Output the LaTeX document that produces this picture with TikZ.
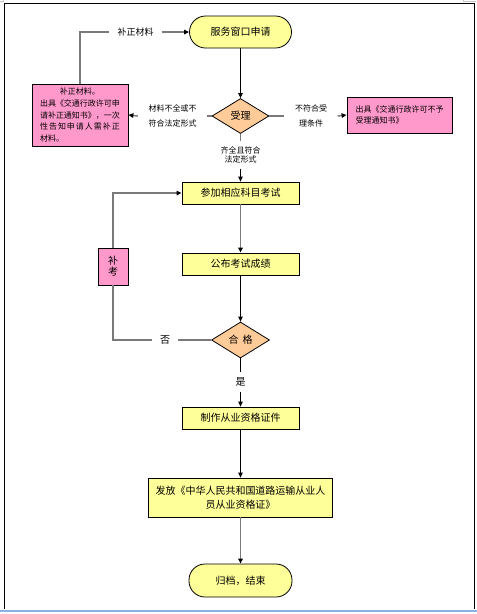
\documentclass[tikz,border=0pt]{standalone}
\usepackage{fontspec}
\setmainfont{Noto Sans CJK SC}
\usetikzlibrary{arrows.meta, positioning, shapes.geometric}
\definecolor{boxyellow}{HTML}{FFFF99}
\definecolor{boxorange}{HTML}{FFCC99}
\definecolor{boxpink}{HTML}{FF99CC}
\definecolor{linegray}{HTML}{7A7A7A}
\definecolor{barblue}{HTML}{8CB0E0}
\tikzset{
    termbox/.style={draw, line width=0.8pt, fill=boxyellow, rounded corners=16pt,
        minimum width=102pt, minimum height=32pt, font=\fontsize{10}{12}\selectfont},
    stepbox/.style={draw, line width=0.8pt, fill=boxyellow, align=center,
        minimum width=117pt, minimum height=22pt, font=\fontsize{10}{14.3}\selectfont},
    decision/.style={draw, line width=0.8pt, fill=boxorange, diamond, inner sep=0pt,
        minimum width=57pt, minimum height=35pt, font=\fontsize{10}{12}\selectfont},
    notebox/.style={draw, line width=0.8pt, fill=boxpink, align=left,
        font=\fontsize{8}{11.75}\selectfont},
    lbl/.style={inner ysep=0pt, inner xsep=10.5pt, font=\fontsize{8}{15}\selectfont},
    link/.style={line width=0.8pt, black},
    glink/.style={line width=1.5pt, linegray},
    >={Triangle[length=5pt,width=4.5pt,color=black]}
}
\begin{document}
\begin{tikzpicture}[x=1pt, y=-1pt]
    \def \cx {240.5}
    \useasboundingbox (0,0) rectangle (477,614);
    % page frame
    \draw[line width=1pt] (4.5,609) -- (4.5,3.5) -- (474,3.5) -- (474,609);
    \draw[gray!45, line width=0.6pt] (463,0) |- (476,1.5);
    \draw[gray!45, line width=0.6pt] (0,1.5) -| (3.5,0);
    \fill[barblue] (0,609.5) rectangle (477,612);
    % main column
    \node[termbox] (apply) at (\cx,32) {服务窗口申请};
    \node[decision] (accept) at (\cx,116) {受理};
    \node[stepbox] (exam) at (\cx,193) {参加相应科目考试};
    \node[stepbox] (score) at (\cx,264) {公布考试成绩};
    \node[decision, minimum width=58pt, minimum height=36pt] (pass) at (\cx,340) {合\hspace{4pt}格};
    \node[stepbox] (make) at (\cx,418) {制作从业资格证件};
    \node[stepbox, minimum width=184pt, minimum height=39pt] (issue) at (\cx,497.5)
        {发放《中华人民共和国道路运输从业人\\员从业资格证》};
    \node[termbox, minimum width=103pt, minimum height=33pt] (archive) at (\cx,580.5) {归档，结束};
    % side boxes
    \node[notebox, minimum width=96pt, minimum height=62pt] (fixbox) at (80,115)
        {\makebox[80pt]{补正材料。}\\出具《交通行政许可申\\请补正通知书》，一次\\
        \makebox[80pt][s]{性\hfill 告\hfill 知\hfill 申\hfill 请\hfill 人\hfill 需\hfill 补\hfill 正}\\材料。};
    \node[notebox, minimum width=105pt, minimum height=36pt] (refbox) at (399.5,115)
        {出具《交通行政许可不予\\受理通知书》};
    \node[notebox, align=center, minimum width=30pt, minimum height=37pt,
        font=\fontsize{10}{11}\selectfont] (retake) at (113,266.5) {补\\考};
    % labels on the connectors
    \node[lbl, align=left] (l1) at (172.5,116) {材料不全或不\\符合法定形式};
    \node[lbl, align=center] (l2) at (311,116) {不符合受\\理条件};
    \node[lbl, align=center, inner ysep=5pt, inner xsep=0pt,
        font=\fontsize{8}{9.5}\selectfont] (l3) at (\cx,155) {齐全且符合\\法定形式};
    \node[lbl, inner xsep=8pt, font=\fontsize{9}{11}\selectfont] (l4) at (135.5,32) {补正材料};
    \node[lbl, inner xsep=7.5pt, font=\fontsize{10}{12}\selectfont] (l5) at (165,340) {否};
    \node[lbl, inner xsep=0pt, inner ysep=5pt, font=\fontsize{10}{12}\selectfont] (l6) at (\cx,382) {是};
    % connectors
    \draw[link,->] (apply.south) -- (accept.north);
    \draw[glink] (accept.west) -- (l1.east);
    \draw[glink,->] (l1.west) -- (fixbox.east);
    \draw[glink] (accept.east) -- (l2.west);
    \draw[glink,->] (l2.east) -- (refbox.west);
    \draw[glink] (fixbox.north) |- (l4.west);
    \draw[glink,->] (l4.east) -- (apply.west);
    \draw[glink] (accept.south) -- (l3.north);
    \draw[link,->] (l3.south) -- (exam.north);
    \draw[glink,->] (exam.south) -- (score.north);
    \draw[link,->] (score.south) -- (pass.north);
    \draw[glink] (pass.west) -- (l5.east);
    \draw[glink] (l5.west) -| (retake.south);
    \draw[glink,->] (retake.north) |- (exam.west);
    \draw[link] (pass.south) -- (l6.north);
    \draw[link,->] (l6.south) -- (make.north);
    \draw[link,->] (make.south) -- (issue.north);
    \draw[glink,->] (issue.south) -- (archive.north);
\end{tikzpicture}
\end{document}
